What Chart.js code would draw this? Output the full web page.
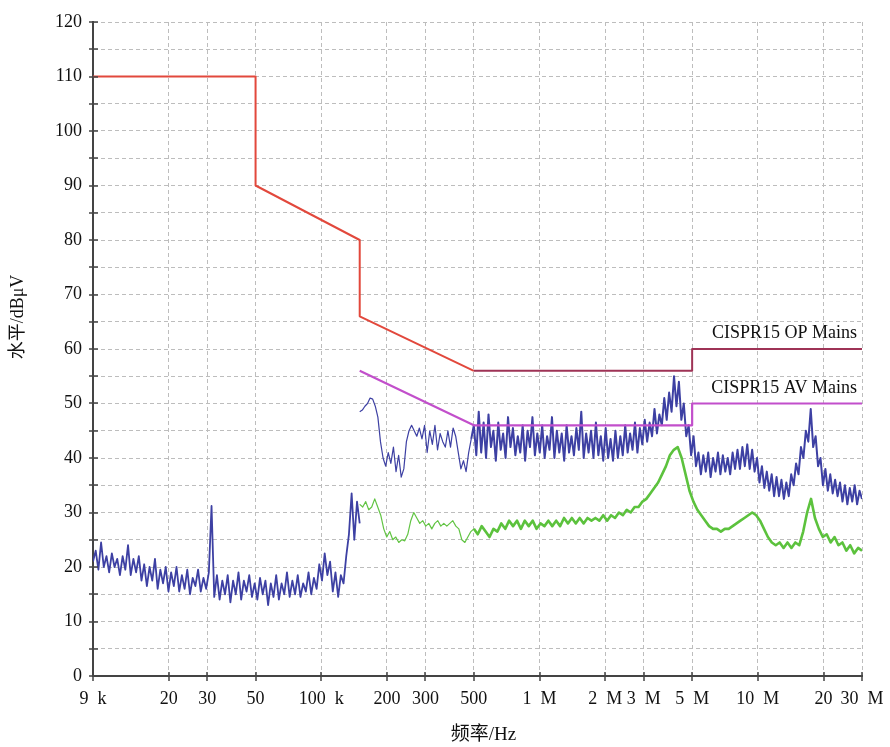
<!DOCTYPE html>
<html>
<head>
<meta charset="utf-8">
<script src="https://cdn.jsdelivr.net/npm/chart.js@4.4.0/dist/chart.umd.min.js"></script>
<style>
  body { margin: 0; background: #fff; }
</style>
</head>
<body>
<canvas id="emiChart" width="890" height="747"></canvas>
<script>
// frequency axis ticks (Hz) and their printed labels
const tickHz = [9e3, 2e4, 3e4, 5e4, 1e5, 2e5, 3e5, 5e5, 1e6, 2e6, 3e6, 5e6, 1e7, 2e7, 3e7];
const tickLabels = ['9  k', '20', '30', '50', '100  k', '200', '300', '500', '1  M', '2  M', '3  M', '5  M', '10  M', '20', '30  M'];

// CISPR 15 mains limits
const qpLimitHz = [9e3, 50e3, 50e3, 150e3, 150e3, 500e3, 5e6, 5e6, 30e6];
const qpLimitDb = [110, 110, 90, 80, 66, 56, 56, 60, 60];
const avLimitHz = [150e3, 500e3, 5e6, 5e6, 30e6];
const avLimitDb = [56, 46, 46, 50, 50];

// peak scan, 9 kHz - 150 kHz (dBuV)
const peakBandA = [
  21, 23, 19.5, 24.5, 20, 22, 19, 22.5, 20, 21.5,
  18.5, 22, 19.5, 24, 18.5, 21.5, 19, 22, 17.5, 20.5,
  16.5, 20, 17.5, 21.5, 16, 19.5, 17, 20, 15.5, 19,
  16.5, 20, 15.5, 18.5, 16, 19.5, 15, 18, 16.5, 19.5,
  15.5, 18, 16, 19, 31.2, 14.5, 18.5, 14, 17.5, 15,
  18.5, 13.5, 17.5, 15, 19, 14, 17.5, 15.5, 18.5, 14.5,
  17, 14, 18, 15, 17.5, 13, 17, 14.5, 18.5, 14,
  17, 15, 19, 14.5, 17.5, 15, 18.5, 14.5, 17, 15.5,
  19, 15, 18, 16, 20.5, 17.5, 22.5, 18.5, 21, 15.5,
  19, 14.5, 18.5, 17, 22, 26, 33.5, 25, 32, 28
];

// peak scan, 150 kHz - 500 kHz
const peakBandB1 = [
  48.5, 48.8, 49.5, 50, 51, 50.8, 49.5, 47.5, 43, 40,
  38.5, 41, 39, 42, 37.5, 40.5, 36.5, 38, 43, 45,
  46, 45, 44, 45.5, 43.5, 46, 41, 45, 42.5, 46,
  41.5, 44.5, 43, 42, 45, 42, 45.5, 44, 41, 38,
  39.5, 37.5, 41, 43.5, 46
];

// peak scan, 500 kHz - 30 MHz
const peakBandB2 = [
  46, 40.5, 48.5, 41, 46.5, 40, 48, 42, 45, 39.5,
  46.5, 41.5, 44.5, 40, 47.5, 42, 45.5, 40.5, 44, 41,
  46, 39.5, 45, 42, 47.5, 40.5, 44.5, 41, 46, 40,
  44, 41.5, 47.5, 40, 45, 41, 44.5, 39.5, 46, 41,
  44, 40.5, 45.5, 41.5, 48.5, 40, 44.5, 41, 45, 40,
  46.5, 40.5, 44, 39.5, 45.5, 40, 43.5, 39.5, 45, 40,
  44, 40.5, 46, 41, 44.5, 41.5, 46.5, 41, 45.5, 42.5,
  47, 43, 46.5, 44, 49, 44.5, 48, 46, 51, 47,
  52, 48.5, 55, 49.5, 54, 47, 50, 44, 46, 40.5,
  44, 38.5, 41, 37, 40.5, 37.5, 41, 36.5, 40, 37.5,
  41, 37, 40.5, 37.5, 40, 37, 41, 38, 41.5, 38,
  42, 38.5, 42.5, 38, 41.5, 37.5, 40, 35.5, 38.5, 34.5,
  37.5, 34, 37, 33, 36.5, 33, 36, 32.5, 35.5, 33,
  37, 35, 39, 37, 42, 40, 45, 43, 49, 42,
  44, 38.5, 40, 35, 38, 34, 37, 33.5, 36, 33,
  35.5, 32, 35, 31.5, 34.5, 32, 35, 31.5, 34, 32.5
];

// average scan, 150 kHz - 500 kHz
const avgBandB1 = [
  31.5, 31, 32, 30.5, 31, 32.5, 31, 29.5, 27, 25.5,
  26.5, 25, 25.5, 24.5, 25, 24.8, 26, 28.5, 30, 29,
  28, 28.5, 27.5, 28, 27, 28, 28.5, 27.5, 28, 27.5,
  28, 28.5, 27.5, 27, 25, 24.5, 25.5, 26.5, 27
];

// average scan, 500 kHz - 30 MHz
const avgBandB2 = [
  27, 26, 27.5, 26.5, 25.5, 27, 26.5, 28, 27, 28.5,
  27.5, 28.5, 27, 28.5, 27.5, 28.5, 27, 28, 27.5, 28.5,
  27.5, 28.5, 27.5, 29, 28, 29, 28, 29, 28, 29,
  28.5, 29, 28.5, 29.5, 28.5, 29.5, 29, 30, 29.5, 30.5,
  30, 31, 31, 32, 32.5, 33.5, 34.5, 35.5, 37, 38.5,
  40.5, 41.5, 42, 40, 37, 34, 32, 30.5, 29.5, 28.5,
  27.5, 27, 27, 26.5, 27, 27, 27.5, 28, 28.5, 29,
  29.5, 30, 29.5, 28.5, 27, 25.5, 24.5, 24, 24.5, 23.5,
  24.5, 23.5, 24.5, 24, 26.5, 30, 32.5, 29, 27, 25.5,
  26, 24.5, 25.5, 24, 24.5, 23, 24, 22.5, 23.5, 23
];

// spread a list of readings over a log-stepped sweep
function sweep(fStart, fStop, levels) {
  const n = levels.length - 1;
  const span = Math.log10(fStop / fStart);
  return levels.map((y, i) => ({ x: fStart * Math.pow(10, span * i / n), y }));
}

function pairs(xs, ys) {
  return xs.map((x, i) => ({ x, y: ys[i] }));
}

const serif = '"Liberation Serif", "Noto Sans CJK SC", serif';

// tick marks crossing the axes, limit names and axis titles
const axisDecor = {
  id: 'axisDecor',
  afterDraw(chart) {
    const { ctx, chartArea: a, scales: { x, y } } = chart;
    ctx.save();
    ctx.strokeStyle = '#444';
    ctx.lineWidth = 1.5;
    ctx.beginPath();
    for (let v = 0; v <= 120; v += 5) {
      const py = Math.round(y.getPixelForValue(v));
      ctx.moveTo(a.left - 4, py);
      ctx.lineTo(a.left + 5, py);
    }
    tickHz.forEach(f => {
      const px = Math.round(x.getPixelForValue(f));
      ctx.moveTo(px, a.bottom - 4);
      ctx.lineTo(px, a.bottom + 5);
    });
    ctx.stroke();

    ctx.fillStyle = '#111';
    ctx.font = '18px ' + serif;
    ctx.textAlign = 'right';
    ctx.textBaseline = 'alphabetic';
    ctx.fillText('CISPR15 OP Mains', x.getPixelForValue(3e7) - 5, y.getPixelForValue(60) - 11);
    ctx.fillText('CISPR15 AV Mains', x.getPixelForValue(3e7) - 5, y.getPixelForValue(50) - 11);

    ctx.textAlign = 'center';
    ctx.textBaseline = 'middle';
    ctx.font = '19px ' + serif;
    ctx.fillText('频率/Hz', (a.left + a.right) / 2 + 6, 735);

    ctx.translate(18, (a.top + a.bottom) / 2 - 32);
    ctx.rotate(-Math.PI / 2);
    ctx.font = '18px ' + serif;
    ctx.fillText('水平/dBμV', 0, 0);
    ctx.restore();
  }
};

const ctx = document.getElementById('emiChart').getContext('2d');
new Chart(ctx, {
  type: 'line',
  data: {
    datasets: [
      {
        data: pairs(qpLimitHz, qpLimitDb),
        borderWidth: 2,
        order: 0,
        segment: {
          borderColor: c => c.p0.parsed.x < 500e3 ? '#e2483c' : '#9e3356'
        }
      },
      {
        data: pairs(avLimitHz, avLimitDb),
        borderColor: '#c24fcb',
        borderWidth: 2.2,
        order: 0
      },
      {
        data: sweep(9e3, 150e3, peakBandA),
        borderColor: '#3d40a3',
        borderWidth: 1.8,
        order: 2
      },
      {
        data: sweep(150e3, 500e3, peakBandB1).concat(sweep(500e3, 30e6, peakBandB2).slice(1)),
        borderColor: '#3d40a3',
        borderWidth: 1.2,
        order: 2,
        segment: {
          borderWidth: c => c.p0.parsed.x < 480e3 ? 1.2 : 2
        }
      },
      {
        data: sweep(150e3, 500e3, avgBandB1),
        borderColor: '#62c444',
        borderWidth: 1.2,
        order: 1
      },
      {
        data: sweep(500e3, 30e6, avgBandB2),
        borderColor: '#5cc23d',
        borderWidth: 2.6,
        order: 1
      }
    ]
  },
  options: {
    responsive: false,
    animation: false,
    devicePixelRatio: 1,
    layout: { padding: { left: 0, top: 22, right: 28, bottom: 0 } },
    elements: { point: { radius: 0 }, line: { tension: 0, borderJoinStyle: 'round' } },
    plugins: { legend: { display: false }, tooltip: { enabled: false } },
    scales: {
      x: {
        type: 'logarithmic',
        min: 9e3,
        max: 30e6,
        afterBuildTicks: s => { s.ticks = tickHz.map(v => ({ value: v })); },
        afterFit: s => {
          s.height = 71;
          s.paddingLeft = 0;
          s.paddingRight = 0;
        },
        ticks: {
          autoSkip: false,
          maxRotation: 0,
          padding: 12,
          color: '#111',
          font: { family: serif, size: 18 },
          callback: (v, i) => tickLabels[i]
        },
        grid: { color: '#bdbdbd', lineWidth: 1, drawTicks: false },
        border: { color: '#444', width: 2, dash: [4, 3] }
      },
      y: {
        min: 0,
        max: 120,
        afterFit: s => {
          s.width = 93;
          s.paddingTop = 0;
          s.paddingBottom = 0;
        },
        ticks: {
          stepSize: 5,
          padding: 11,
          color: '#111',
          font: { family: serif, size: 18 },
          callback: v => v % 10 === 0 ? v : ''
        },
        grid: { color: '#bdbdbd', lineWidth: 1, drawTicks: false },
        border: { color: '#444', width: 2, dash: [4, 3] }
      }
    }
  },
  plugins: [axisDecor]
});
</script>
</body>
</html>
